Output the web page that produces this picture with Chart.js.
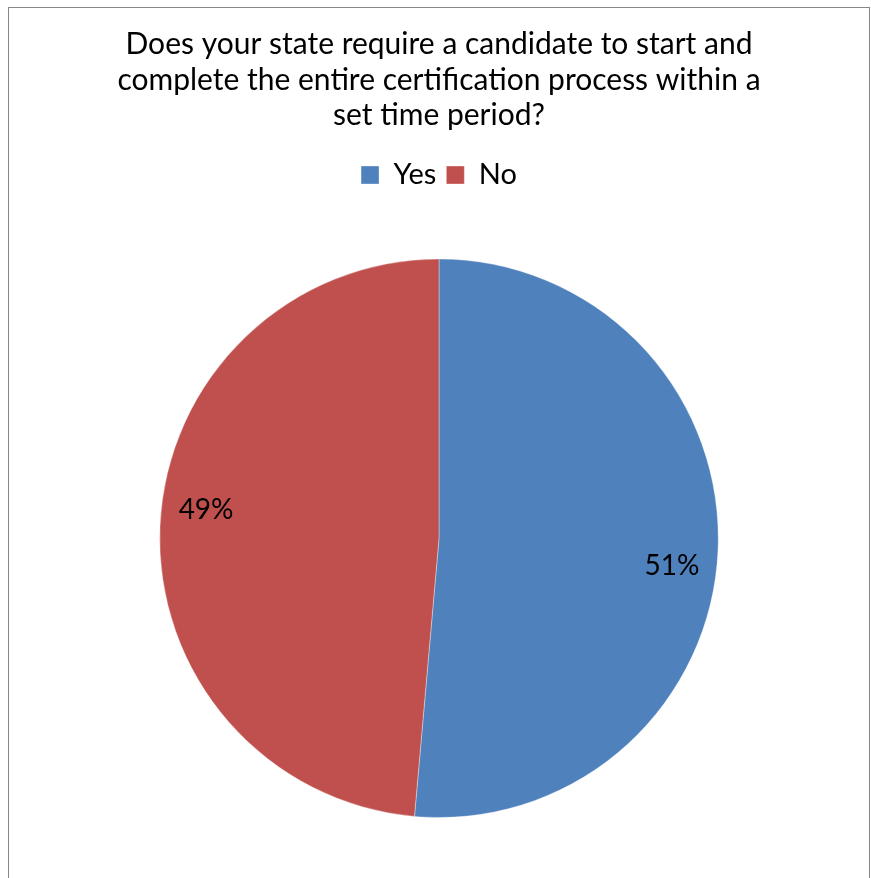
<!DOCTYPE html>
<html>
<head>
<meta charset="utf-8">
<script src="https://cdn.jsdelivr.net/npm/chart.js@4/dist/chart.umd.min.js"></script>
<style>
    html, body { margin: 0; padding: 0; background: #fff; }
    #wrap { position: relative; width: 871px; height: 878px; overflow: hidden; }
    #frame {
        position: absolute; left: 8px; top: 7px; width: 862px; height: 900px;
        border: 1px solid #878787; box-sizing: border-box;
    }
    canvas { position: absolute; left: 0; top: 0; }
</style>
</head>
<body>
<div id="wrap">
    <div id="frame"></div>
    <canvas id="pieChart" width="871" height="878"></canvas>
</div>
<script>
// Chart data
const titleLines = [
    'Does your state require a candidate to start and',
    'complete the entire certification process within a',
    'set time period?'
];
const categories = ['Yes', 'No'];
const shares = [51.4, 48.6];
const sliceColors = ['#4F81BD', '#C0504D'];

const fontFamily = 'Lato, "Open Sans", sans-serif';

// Pushes the pie down below the legend
const legendGap = {
    id: 'legendGap',
    beforeInit(chart) {
        const fit = chart.legend.fit;
        chart.legend.fit = function () {
            fit.bind(chart.legend)();
            this.height += 59;
        };
    }
};

// Percent labels inside each slice (placed a little clockwise of the middle, like the original)
const sliceLabels = {
    id: 'sliceLabels',
    afterDatasetsDraw(chart) {
        const ctx = chart.ctx;
        const meta = chart.getDatasetMeta(0);
        const shift = 4.3 * Math.PI / 180;
        ctx.save();
        ctx.font = '28px ' + fontFamily;
        ctx.fillStyle = '#000';
        ctx.textAlign = 'center';
        ctx.textBaseline = 'middle';
        meta.data.forEach((arc, i) => {
            const p = arc.getProps(['x', 'y', 'startAngle', 'endAngle', 'outerRadius']);
            const mid = (p.startAngle + p.endAngle) / 2 + shift;
            const r = p.outerRadius * 0.84;
            ctx.fillText(Math.round(shares[i]) + '%', p.x + Math.cos(mid) * r, p.y + Math.sin(mid) * r);
        });
        ctx.restore();
    }
};

const ctx = document.getElementById('pieChart').getContext('2d');
new Chart(ctx, {
    type: 'pie',
    data: {
        labels: categories,
        datasets: [{
            data: shares,
            backgroundColor: sliceColors,
            borderColor: 'rgba(255,255,255,0.35)',
            borderWidth: 1
        }]
    },
    options: {
        responsive: false,
        animation: false,
        layout: {
            padding: { left: 7, right: 0, top: 0, bottom: 60 }
        },
        plugins: {
            title: {
                display: true,
                text: titleLines,
                color: '#000',
                font: { family: fontFamily, size: 30, weight: 'normal', lineHeight: '35.5px' },
                padding: { top: 27, bottom: 17 }
            },
            legend: {
                position: 'top',
                labels: {
                    color: '#000',
                    boxWidth: 18,
                    boxHeight: 18,
                    padding: 10,
                    font: { family: fontFamily, size: 29 }
                }
            },
            tooltip: { enabled: false }
        }
    },
    plugins: [legendGap, sliceLabels]
});
</script>
</body>
</html>
